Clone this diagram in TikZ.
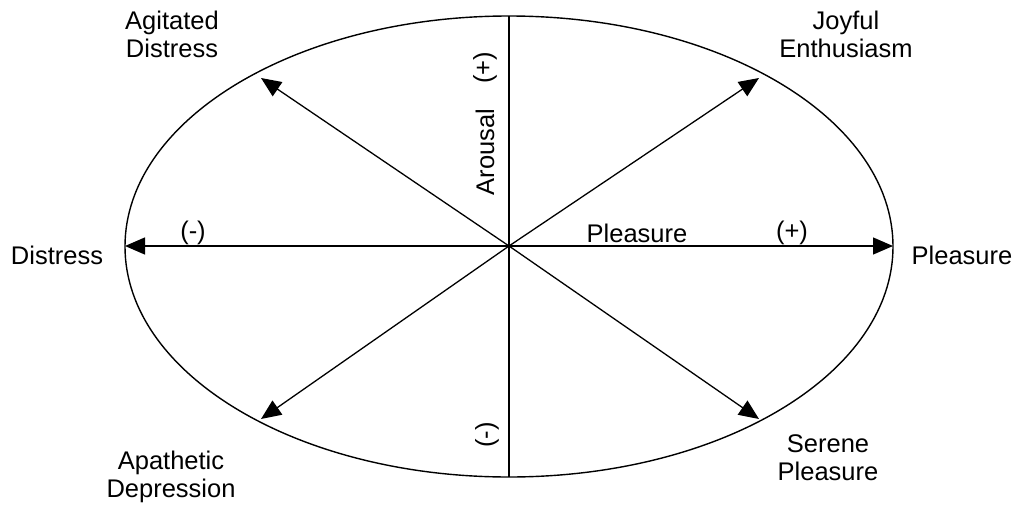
\documentclass[tikz,border=0pt]{standalone}
\usepackage{fontspec}
\setmainfont{Liberation Sans}
\usetikzlibrary{arrows.meta}
\begin{document}
\begin{tikzpicture}[x=1pt,y=-1pt,
  lbl/.style={inner sep=0pt,align=center,font=\fontsize{25.5}{28}\selectfont},
  axis/.style={line width=1.5pt},
  arr/.style={line width=1.3pt,-{Triangle[length=20pt,width=17pt]}}]
\useasboundingbox (0,0) rectangle (1014,506);
\fill[white] (0,0) rectangle (1014,506);
\draw[line width=1.4pt] (509,246.5) ellipse [x radius=384, y radius=230.5];
\coordinate (c) at (509,246);
\coordinate (top) at (509,16);
\coordinate (bot) at (509,477);
\coordinate (L) at (125,246);
\coordinate (R) at (893,246);
\coordinate (UL) at (261,78);
\coordinate (UR) at (759,78);
\coordinate (LL) at (261,419);
\coordinate (LR) at (759,419);
\draw[axis] (top) -- (bot);
\draw[arr] (c) -- (L);
\draw[arr] (c) -- (R);
\draw[arr] (c) -- (UL);
\draw[arr] (c) -- (UR);
\draw[arr] (c) -- (LL);
\draw[arr] (c) -- (LR);
\node[lbl] (ad) at (172,34) {Agitated\\Distress};
\node[lbl] (je) at (846,34) {Joyful\\Enthusiasm};
\node[lbl] (dis) at (57,255) {Distress};
\node[lbl] (ple) at (962,255) {Pleasure};
\node[lbl] (pax) at (637,233) {Pleasure};
\node[lbl] (pp) at (792,233) {(+)};
\node[lbl] (pm) at (193,233) {(-)};
\node[lbl,rotate=90] (aro) at (485,152) {Arousal};
\node[lbl,rotate=90] (ap) at (485,68) {(+)};
\node[lbl,rotate=90] (am) at (487,435) {(-)};
\node[lbl] (apd) at (171,477) {Apathetic\\Depression};
\node[lbl] (sp) at (828,458) {Serene\\Pleasure};
\end{tikzpicture}
\end{document}
